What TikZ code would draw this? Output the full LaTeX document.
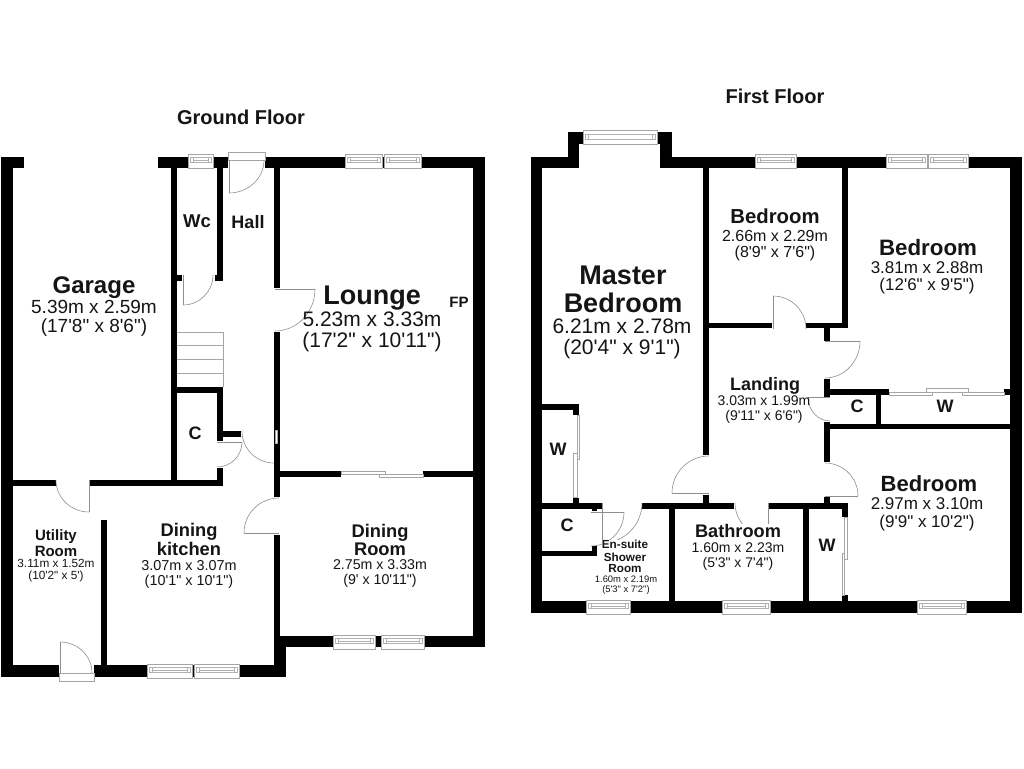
\documentclass[tikz,border=0pt]{standalone}
\usepackage{fontspec}
\setmainfont{Liberation Sans}[Ligatures=TeXOff]
\definecolor{wallc}{HTML}{000000}
\definecolor{linec}{HTML}{8F8F8F}
\definecolor{textc}{HTML}{151515}
\tikzset{
  wall/.style={fill=wallc,draw=none},
  doorline/.style={draw=linec,line width=0.6pt},
  winframe/.style={draw=linec!80,fill=white,line width=0.8pt},
  winrail/.style={draw=linec!70,fill=white,line width=0.6pt},
  stairline/.style={draw=linec!80,line width=0.8pt},
  lab/.style={anchor=base,inner sep=0pt,text=textc,font=\bfseries,align=center},
  dim/.style={anchor=base,inner sep=0pt,text=textc,align=center},
}
% #1 x1, #2 y1, #3 x2, #4 y2
\newcommand{\wl}[4]{\fill[wall] (#1,#2) rectangle (#3,#4);}
% window across a horizontal wall: x1,x2,ytop,ybot
\newcommand{\winH}[4]{%
  \path[winframe] (#1,#3) rectangle (#2,#4);
  \path[winrail] (#1+2,#3+3.5) rectangle (#2-2,#3+8.5);
  \draw[linec!70,line width=0.5pt] (#1+5,#3+3.5) -- (#1+5,#3+8.5) (#2-5,#3+3.5) -- (#2-5,#3+8.5) (#1+5,#3+6) -- (#2-5,#3+6);
}
% quarter arc from A(#1,#2) to B(#3,#4) around C(#5,#6)
\newcommand{\qarc}[6]{%
  \draw[doorline] (#1,#2) .. controls ({#1+0.5523*(#3-#5)},{#2+0.5523*(#4-#6)}) and ({#3+0.5523*(#1-#5)},{#4+0.5523*(#2-#6)}) .. (#3,#4);
}
% door: hinge H, leaf tip L, swing end E
\newcommand{\door}[6]{%
  \draw[doorline] (#1,#2) -- (#3,#4);
  \qarc{#3}{#4}{#5}{#6}{#1}{#2}
}
\newcommand{\sldr}[4]{\path[winframe,line width=0.6pt] (#1,#2) rectangle (#3,#4);}
\begin{document}
\begin{tikzpicture}[x=1pt,y=-1pt]
\useasboundingbox (0,0) rectangle (1024,768);
\fill[white] (0,0) rectangle (1024,768);

% ===== GROUND FLOOR walls =====
\wl{1}{157}{13}{677}
\wl{1}{157}{24}{168}
\wl{158}{157}{228}{168}
\wl{265}{157}{485}{168}
\wl{171}{157}{177}{486}
\wl{217}{157}{223}{281}
\wl{171}{275}{182}{281}
\wl{215}{275}{223}{281}
\wl{274}{157}{280}{288}
\wl{274}{332}{280}{497}
\wl{274}{535}{280}{677}
\wl{473}{157}{485}{647}
\wl{274}{471}{341}{477}
\wl{423}{471}{473}{477}
\wl{171}{387}{223}{393}
\wl{217}{387}{223}{441}
\wl{217}{431}{241}{437}
\wl{217}{468}{223}{486}
\wl{13}{480}{56}{486}
\wl{90}{480}{223}{486}
\wl{101}{520}{107}{670}
\wl{1}{665}{59}{677}
\wl{94}{665}{286}{677}
\wl{274}{636}{286}{677}
\wl{274}{636}{485}{647}

% ground floor windows
\winH{188}{213}{154}{168}
\winH{345}{382}{154}{168}
\winH{384}{421}{154}{168}
\winH{147}{192}{664}{678}
\winH{194}{239}{664}{678}
\winH{333}{375}{635}{649}
\winH{381}{424}{635}{649}

% sliding door lounge / dining
\sldr{341}{471}{385}{474}
\sldr{379}{474}{423}{477}
% slit in hall wall
\sldr{275.5}{430}{277}{443}

% stairs
\draw[stairline] (177,332) -- (223,332) (177,345) -- (223,345) (177,359) -- (223,359) (177,373) -- (223,373) (223,332) -- (223,387);

% ground doors
\path[winframe] (228,152) rectangle (265,160);
\door{229}{160}{229}{193}{264}{160}
\door{183}{275}{183}{305}{213}{275}
\door{275}{289}{315}{289}{275}{331}
\door{217}{442}{242}{442}{217}{467}
\qarc{242}{431}{274}{463}{274}{431}
\door{279}{533}{244}{533}{279}{498}
\door{89}{480}{89}{512}{56}{480}
\path[winframe] (59,673) rectangle (94,681);
\door{60}{673}{60}{642}{92}{673}

% ===== FIRST FLOOR walls =====
\wl{531}{157}{542}{613}
\wl{531}{157}{579}{168}
\wl{568}{132}{579}{168}
\wl{568}{132}{584}{144}
\wl{657}{132}{672}{144}
\wl{660}{132}{672}{168}
\wl{660}{157}{755}{168}
\wl{796}{157}{1022}{168}
\wl{1010}{157}{1022}{613}
\wl{703}{168}{709}{455}
\wl{703}{495}{709}{509}
\wl{709}{323}{772}{328}
\wl{806}{323}{848}{328}
\wl{842}{168}{848}{328}
\wl{824}{328}{830}{341}
\wl{824}{379}{830}{397}
\wl{824}{389}{889}{395}
\wl{1004}{389}{1010}{395}
\wl{876}{395}{881}{424}
\wl{824}{422}{830}{462}
\wl{824}{424}{1010}{429}
\wl{824}{497}{830}{503}
\wl{542}{503}{602}{509}
\wl{642}{503}{734}{509}
\wl{769}{503}{848}{509}
\wl{669}{503}{675}{601}
\wl{803}{503}{809}{601}
\wl{842}{503}{848}{517}
\wl{842}{595}{848}{601}
\wl{542}{404}{579}{410}
\wl{573}{404}{579}{415}
\wl{573}{498}{579}{503}
\wl{542}{551}{597}{556}
\wl{592}{546}{597}{556}
\wl{592}{509}{597}{511}
\wl{531}{601}{586}{613}
\wl{630}{601}{722}{613}
\wl{770}{601}{917}{613}
\wl{966}{601}{1022}{613}

% first floor windows
\path[winframe] (583,130) rectangle (657,144);
\path[winrail] (585,134) rectangle (655,139);
\draw[linec!70,line width=0.5pt] (588,134) -- (588,139) (652,134) -- (652,139);
\winH{755}{796}{154}{168}
\winH{886}{927}{154}{168}
\winH{928}{968}{154}{168}
\winH{586}{630}{600}{614}
\winH{722}{770}{600}{614}
\winH{917}{966}{600}{614}

% sliding wardrobes
\sldr{577}{415}{579}{459}
\sldr{573.5}{453}{577}{497}
\sldr{889}{392}{932}{395}
\sldr{926}{388}{968}{392}
\sldr{962}{392}{1004}{395}
\sldr{844.5}{517}{847}{559}
\sldr{842}{553}{844.5}{595}

% first floor doors
\door{773}{329}{773}{296}{806}{329}
\door{825}{341}{860}{341}{825}{378}
\door{830}{397}{808}{397}{830}{421}
\door{825}{496}{858}{496}{825}{463}
\door{709}{493}{672}{493}{709}{456}
\door{591}{512}{624}{512}{591}{546}
\door{602}{503}{602}{543}{642}{503}
\door{768}{503}{768}{536}{735}{503}

% ===== TEXT =====
\node[lab,font=\bfseries\fontsize{20}{20}\selectfont] (tground) at (241,124) {Ground Floor};
\node[lab,font=\bfseries\fontsize{20}{20}\selectfont] (tfirst) at (775,103) {First Floor};

\node[lab,font=\bfseries\fontsize{24}{24}\selectfont] (garage) at (94,293) {Garage};
\node[dim,font=\fontsize{19}{19}\selectfont] (garaged) at (94,313) {5.39m x 2.59m};
\node[dim,font=\fontsize{19}{19}\selectfont] (garagef) at (94,332) {(17'8" x 8'6")};

\node[lab,font=\bfseries\fontsize{18.5}{18}\selectfont] (wc) at (197,227) {Wc};
\node[lab,font=\bfseries\fontsize{18}{18}\selectfont] (hall) at (248,228) {Hall};
\node[lab,font=\bfseries\fontsize{18}{18}\selectfont] (cg) at (195,439) {C};

\node[lab,font=\bfseries\fontsize{27}{27}\selectfont] (lounge) at (372,304) {Lounge};
\node[dim,font=\fontsize{21}{21}\selectfont] (lounged) at (372,326) {5.23m x 3.33m};
\node[dim,font=\fontsize{21}{21}\selectfont] (loungef) at (372,347) {(17'2" x 10'11")};
\node[lab,font=\bfseries\fontsize{15}{15}\selectfont] (fp) at (459,307) {FP};

\node[lab,font=\bfseries\fontsize{18.3}{18}\selectfont] (dr1) at (380,537) {Dining};
\node[lab,font=\bfseries\fontsize{18.3}{18}\selectfont] (dr2) at (380,555) {Room};
\node[dim,font=\fontsize{14.2}{14}\selectfont] (drd) at (380,569) {2.75m x 3.33m};
\node[dim,font=\fontsize{14.2}{14}\selectfont] (drf) at (380,584) {(9' x 10'11")};

\node[lab,font=\bfseries\fontsize{18.3}{18}\selectfont] (dk1) at (189,536) {Dining};
\node[lab,font=\bfseries\fontsize{18.3}{18}\selectfont] (dk2) at (189,555) {kitchen};
\node[dim,font=\fontsize{14.4}{14}\selectfont] (dkd) at (189,570) {3.07m x 3.07m};
\node[dim,font=\fontsize{14.4}{14}\selectfont] (dkf) at (189,585) {(10'1" x 10'1")};

\node[lab,font=\bfseries\fontsize{15}{15}\selectfont] (ut1) at (56,540) {Utility};
\node[lab,font=\bfseries\fontsize{15}{15}\selectfont] (ut2) at (56,556) {Room};
\node[dim,font=\fontsize{11.8}{12}\selectfont] (utd) at (56,567) {3.11m x 1.52m};
\node[dim,font=\fontsize{11.8}{12}\selectfont] (utf) at (56,579) {(10'2" x 5')};

\node[lab,font=\bfseries\fontsize{27}{27}\selectfont] (mb1) at (623,284) {Master};
\node[lab,font=\bfseries\fontsize{27}{27}\selectfont] (mb2) at (623,312) {Bedroom};
\node[dim,font=\fontsize{21}{21}\selectfont] (mbd) at (622,333) {6.21m x 2.78m};
\node[dim,font=\fontsize{21}{21}\selectfont] (mbf) at (622,354) {(20'4" x 9'1")};

\node[lab,font=\bfseries\fontsize{20.3}{20}\selectfont] (b21) at (775,223) {Bedroom};
\node[dim,font=\fontsize{16}{16}\selectfont] (b2d) at (775,241) {2.66m x 2.29m};
\node[dim,font=\fontsize{16}{16}\selectfont] (b2f) at (775,257) {(8'9" x 7'6")};

\node[lab,font=\bfseries\fontsize{22.3}{22}\selectfont] (b31) at (928,255) {Bedroom};
\node[dim,font=\fontsize{17}{17}\selectfont] (b3d) at (927,273) {3.81m x 2.88m};
\node[dim,font=\fontsize{17}{17}\selectfont] (b3f) at (927,290) {(12'6" x 9'5")};

\node[lab,font=\bfseries\fontsize{18}{18}\selectfont] (land) at (765,390) {Landing};
\node[dim,font=\fontsize{14}{14}\selectfont] (landd) at (764,405) {3.03m x 1.99m};
\node[dim,font=\fontsize{14}{14}\selectfont] (landf) at (764,420) {(9'11" x 6'6")};

\node[lab,fill=white,font=\bfseries\fontsize{18.2}{18}\selectfont] (bath) at (738,537) {Bathroom};
\node[dim,font=\fontsize{14}{14}\selectfont] (bathd) at (738,552) {1.60m x 2.23m};
\node[dim,font=\fontsize{14}{14}\selectfont] (bathf) at (738,567) {(5'3" x 7'4")};

\node[lab,fill=white,font=\bfseries\fontsize{11.7}{12}\selectfont] (en1) at (625,548) {En-suite};
\node[lab,font=\bfseries\fontsize{11.7}{12}\selectfont] (en2) at (625,561) {Shower};
\node[lab,font=\bfseries\fontsize{11.7}{12}\selectfont] (en3) at (625,572) {Room};
\node[dim,font=\fontsize{9.4}{10}\selectfont] (end) at (626,582) {1.60m x 2.19m};
\node[dim,font=\fontsize{9.4}{10}\selectfont] (enf) at (626,592) {(5'3" x 7'2")};

\node[lab,font=\bfseries\fontsize{18}{18}\selectfont] (cm) at (567,531) {C};
\node[lab,font=\bfseries\fontsize{18}{18}\selectfont] (wm) at (558,455) {W};
\node[lab,font=\bfseries\fontsize{18}{18}\selectfont] (cu) at (857,412) {C};
\node[lab,font=\bfseries\fontsize{18}{18}\selectfont] (wu) at (945,412) {W};
\node[lab,font=\bfseries\fontsize{18}{18}\selectfont] (wl) at (827,551) {W};

\node[lab,font=\bfseries\fontsize{22}{22}\selectfont] (b41) at (929,491) {Bedroom};
\node[dim,font=\fontsize{17}{17}\selectfont] (b4d) at (927,509) {2.97m x 3.10m};
\node[dim,font=\fontsize{17}{17}\selectfont] (b4f) at (927,527) {(9'9" x 10'2")};
\end{tikzpicture}
\end{document}
